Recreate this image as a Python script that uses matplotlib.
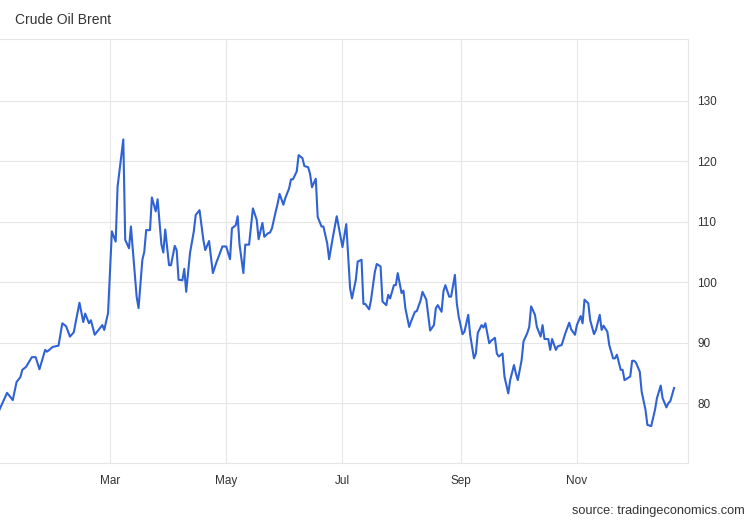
import matplotlib.pyplot as plt
import numpy as np
import pandas as pd

plt.rcParams['font.family'] = ['Liberation Sans', 'DejaVu Sans']

# day offset from 1 Jan 2022, Brent close (USD)
day = [1, 5, 8, 10, 12, 13, 15, 18, 20, 22, 25, 26, 29, 32, 34, 36, 38, 40, 43, 45,
       46, 48, 49, 51, 55, 56, 58, 60, 62, 63, 66, 67, 69, 70, 73, 74, 76, 77, 78, 80,
       81, 83, 84, 86, 87, 88, 90, 91, 93, 94, 95, 97, 98, 99, 101, 103, 104, 106, 108, 109,
       111, 113, 115, 116, 118, 120, 122, 123, 125, 126, 127, 129, 130, 132, 133, 134, 136, 137, 139, 140,
       142, 143, 144, 146, 147, 148, 150, 151, 153, 154, 155, 157, 158, 160, 161, 163, 164, 165, 167, 168,
       170, 171, 173, 174, 176, 178, 179, 181, 183, 185, 186, 188, 189, 191, 192, 193, 195, 196, 198, 199,
       201, 202, 204, 205, 206, 208, 209, 210, 212, 213, 214, 216, 217, 219, 220, 222, 223, 225, 226, 227,
       229, 230, 231, 233, 234, 235, 237, 238, 240, 241, 242, 244, 245, 247, 248, 250, 251, 252, 254, 255,
       256, 258, 259, 261, 262, 263, 265, 266, 268, 269, 271, 272, 273, 275, 276, 278, 279, 280, 282, 283,
       285, 286, 287, 289, 290, 291, 293, 294, 296, 298, 300, 301, 303, 304, 306, 307, 308, 310, 311, 313,
       314, 316, 317, 318, 320, 321, 323, 324, 325, 327, 328, 329, 332, 333, 334, 335, 337, 338, 340, 341,
       343, 345, 346, 348, 349, 351, 352, 353, 355]
price = [78.9, 81.7, 80.5, 83.5, 84.3, 85.5, 86.0, 87.6, 87.6, 85.6, 88.8, 88.5, 89.3, 89.5, 93.2, 92.7, 91.0, 91.7, 96.6, 93.4,
         94.8, 93.2, 93.7, 91.3, 92.9, 92.1, 94.9, 108.4, 106.7, 115.8, 123.6, 107.0, 105.6, 109.2, 97.6, 95.7, 103.7, 105.0, 108.6, 108.6,
         114.0, 111.7, 113.7, 106.2, 104.9, 108.7, 102.8, 102.8, 106.0, 105.3, 100.4, 100.3, 102.2, 98.4, 104.8, 108.4, 111.1, 111.9, 107.0, 105.3,
         106.8, 101.5, 103.4, 104.2, 105.9, 105.9, 103.8, 108.9, 109.4, 110.9, 106.2, 101.5, 106.2, 106.2, 109.2, 112.2, 110.3, 107.1, 109.8, 107.5,
         108.1, 108.2, 108.9, 111.7, 113.0, 114.6, 112.8, 113.9, 115.5, 117.0, 117.0, 118.3, 121.0, 120.5, 119.2, 119.0, 117.9, 115.7, 117.1, 110.8,
         109.2, 109.2, 106.4, 103.8, 107.5, 110.9, 109.2, 105.8, 109.6, 99.0, 97.3, 100.4, 103.4, 103.7, 96.4, 96.4, 95.5, 97.1, 101.7, 103.0,
         102.6, 96.8, 96.2, 97.9, 97.3, 99.5, 99.5, 101.5, 98.2, 98.6, 95.7, 92.6, 93.5, 95.1, 95.2, 97.0, 98.4, 97.1, 94.6, 92.0,
         92.9, 95.7, 96.2, 95.1, 98.5, 99.5, 97.6, 97.6, 101.2, 96.5, 94.3, 91.4, 91.8, 94.6, 91.3, 87.4, 88.2, 91.6, 92.9, 92.5,
         93.2, 89.9, 90.3, 90.8, 88.2, 87.7, 88.2, 84.4, 81.6, 83.8, 86.3, 84.9, 83.8, 87.1, 90.2, 91.6, 92.6, 96.0, 94.6, 92.6,
         91.0, 92.9, 90.6, 90.6, 88.8, 90.6, 88.8, 89.4, 89.6, 91.6, 93.3, 92.2, 91.3, 92.9, 94.4, 93.2, 97.1, 96.5, 93.7, 91.4,
         92.1, 94.6, 92.1, 92.8, 91.8, 89.6, 87.4, 87.4, 88.0, 85.5, 85.5, 83.8, 84.4, 87.0, 87.0, 86.7, 85.2, 81.9, 78.9, 76.4,
         76.2, 78.9, 80.8, 82.9, 80.8, 79.3, 80.0, 80.3, 82.5]

y_ticks = [80, 90, 100, 110, 120, 130]
month_ticks = ['2022-03-01', '2022-05-01', '2022-07-01', '2022-09-01', '2022-11-01']
month_labels = ['Mar', 'May', 'Jul', 'Sep', 'Nov']

start = pd.Timestamp('2022-01-01')
dates = start + pd.to_timedelta(day, unit='D')

fig = plt.figure(figsize=(7.5, 5.2), dpi=100)
ax = fig.add_axes([0, 0.1096, 0.9173, 0.8154])

grid_c = '#e6e6e6'
ax.plot(dates, price, color='#2f62d4', lw=1.5, solid_joinstyle='round')

ax.set_xlim(start + pd.Timedelta(days=1.3), start + pd.Timedelta(days=362.3))
ax.set_ylim(70.1, 140.2)

ax.set_yticks(y_ticks)
ax.set_xticks(pd.to_datetime(month_ticks))
ax.set_xticklabels(month_labels)
ax.yaxis.tick_right()
ax.tick_params(axis='both', length=0, labelsize=8.5, labelcolor='#333333')
ax.tick_params(axis='y', pad=6.5)
ax.tick_params(axis='x', pad=8.5)
ax.grid(True, color=grid_c, lw=0.8)
ax.set_axisbelow(True)

ax.spines['left'].set_visible(False)
for s in ['top', 'bottom', 'right']:
    ax.spines[s].set_color(grid_c)
    ax.spines[s].set_linewidth(0.8)

fig.text(15 / 750, 1 - 20 / 520, 'Crude Oil Brent', fontsize=10, color='#333333',
         va='center', ha='left')
fig.text(745 / 750, 1 - 511 / 520, 'source: tradingeconomics.com', fontsize=9.2,
         color='#333333', va='center', ha='right')

fig.savefig('out.png', dpi=100)
